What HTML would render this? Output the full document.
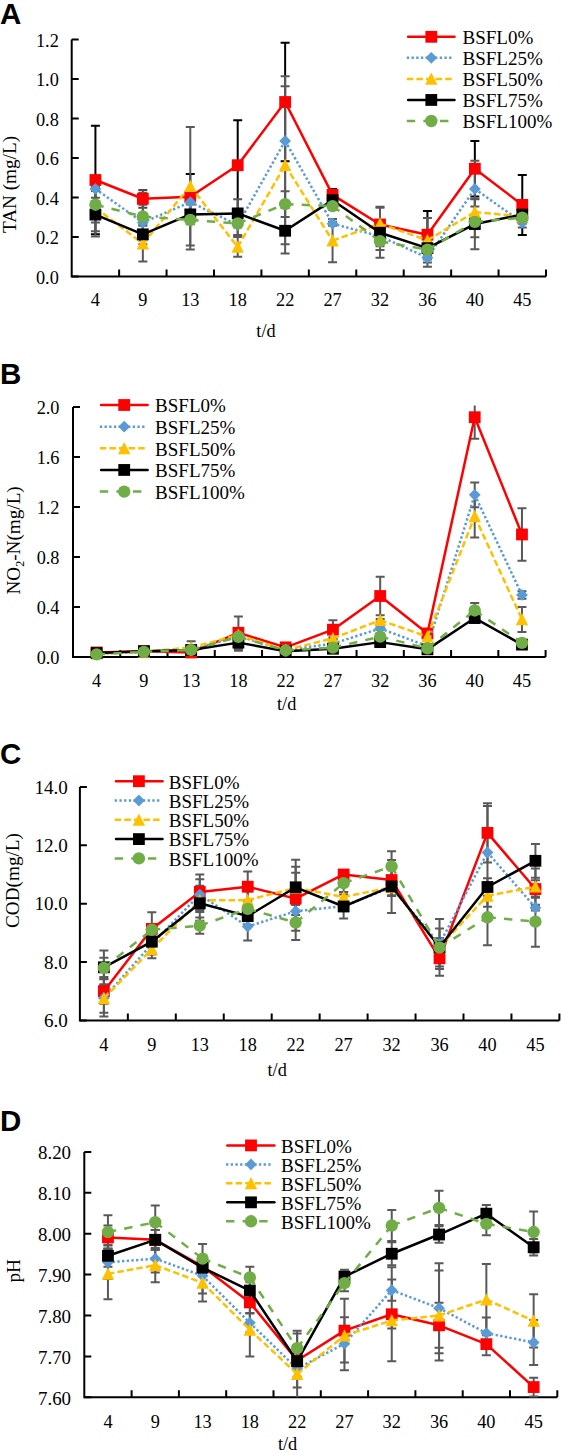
<!DOCTYPE html>
<html><head><meta charset="utf-8"><title>Chart</title>
<style>html,body{margin:0;padding:0;background:#fff;}svg{display:block;}</style></head>
<body><svg width="562" height="1453" viewBox="0 0 562 1453">
<rect width="562" height="1453" fill="#fff"/>
<text x="0" y="24" font-family="Liberation Sans, sans-serif" font-weight="bold" font-size="29.5">A</text>
<path d="M71.7 39.5V276.4H546" fill="none" stroke="#000" stroke-width="2"/>
<path d="M71.7 276.4h7M71.7 236.92h7M71.7 197.43h7M71.7 157.95h7M71.7 118.47h7M71.7 78.98h7M71.7 39.5h7M119.13 276.4v-7M166.56 276.4v-7M213.99 276.4v-7M261.42 276.4v-7M308.85 276.4v-7M356.28 276.4v-7M403.71 276.4v-7M451.14 276.4v-7M498.57 276.4v-7M546 276.4v-7" fill="none" stroke="#000" stroke-width="2"/>
<text transform="translate(58.8,283.6) scale(1.0,1)" font-family="Liberation Serif, serif" font-size="18.3" text-anchor="end">0.0</text>
<text transform="translate(58.8,244.12) scale(1.0,1)" font-family="Liberation Serif, serif" font-size="18.3" text-anchor="end">0.2</text>
<text transform="translate(58.8,204.63) scale(1.0,1)" font-family="Liberation Serif, serif" font-size="18.3" text-anchor="end">0.4</text>
<text transform="translate(58.8,165.15) scale(1.0,1)" font-family="Liberation Serif, serif" font-size="18.3" text-anchor="end">0.6</text>
<text transform="translate(58.8,125.67) scale(1.0,1)" font-family="Liberation Serif, serif" font-size="18.3" text-anchor="end">0.8</text>
<text transform="translate(58.8,86.18) scale(1.0,1)" font-family="Liberation Serif, serif" font-size="18.3" text-anchor="end">1.0</text>
<text transform="translate(58.8,46.7) scale(1.0,1)" font-family="Liberation Serif, serif" font-size="18.3" text-anchor="end">1.2</text>
<text x="95.42" y="305.8" font-family="Liberation Serif, serif" font-size="18.3" text-anchor="middle">4</text>
<text x="142.84" y="305.8" font-family="Liberation Serif, serif" font-size="18.3" text-anchor="middle">9</text>
<text x="190.28" y="305.8" font-family="Liberation Serif, serif" font-size="18.3" text-anchor="middle">13</text>
<text x="237.7" y="305.8" font-family="Liberation Serif, serif" font-size="18.3" text-anchor="middle">18</text>
<text x="285.13" y="305.8" font-family="Liberation Serif, serif" font-size="18.3" text-anchor="middle">22</text>
<text x="332.56" y="305.8" font-family="Liberation Serif, serif" font-size="18.3" text-anchor="middle">27</text>
<text x="380" y="305.8" font-family="Liberation Serif, serif" font-size="18.3" text-anchor="middle">32</text>
<text x="427.43" y="305.8" font-family="Liberation Serif, serif" font-size="18.3" text-anchor="middle">36</text>
<text x="474.85" y="305.8" font-family="Liberation Serif, serif" font-size="18.3" text-anchor="middle">40</text>
<text x="522.28" y="305.8" font-family="Liberation Serif, serif" font-size="18.3" text-anchor="middle">45</text>
<text x="266" y="336.6" font-family="Liberation Serif, serif" font-size="18.3" text-anchor="middle">t/d</text>
<text transform="translate(15.6,184.5) rotate(-90)" font-family="Liberation Serif, serif" font-size="19.2" text-anchor="middle">TAN (mg/L)</text>
<path d="M138.34 189.89h9M142.84 189.89V207.66M138.34 207.66h9" fill="none" stroke="#4a4a4a" stroke-width="2"/>
<path d="M90.92 125.7h9M95.42 125.7V234.33M90.92 234.33h9M185.78 174.09h9M190.28 174.09V219.51M185.78 219.51h9M233.2 120.37h9M237.7 120.37V210.03M233.2 210.03h9M280.63 42.75h9M285.13 42.75V161.25M280.63 161.25h9M328.06 188.9h9M332.56 188.9V200.75M328.06 200.75h9M375.5 220.5h9M380 220.5V228.4M375.5 228.4h9M422.93 211.02h9M427.43 211.02V258.42M422.93 258.42h9M470.35 140.91h9M474.85 140.91V196.6M470.35 196.6h9M517.78 174.88h9M522.28 174.88V234.92M517.78 234.92h9" fill="none" stroke="#000000" stroke-width="2"/>
<path d="M90.92 186.93h9M95.42 186.93V190.88M90.92 190.88h9M138.34 204.7h9M142.84 204.7V240.25M138.34 240.25h9M185.78 192.26h9M190.28 192.26V212.01M185.78 212.01h9M233.2 215.17h9M237.7 215.17V234.92M233.2 234.92h9M280.63 76.13h9M285.13 76.13V205.69M280.63 205.69h9M328.06 221.69h9M332.56 221.69V225.64M328.06 225.64h9M375.5 226.43h9M380 226.43V246.18M375.5 246.18h9M422.93 255.66h9M427.43 255.66V259.61M422.93 259.61h9M470.35 160.66h9M474.85 160.66V217.14M470.35 217.14h9M517.78 217.54h9M522.28 217.54V227.41M517.78 227.41h9" fill="none" stroke="#595959" stroke-width="2"/>
<path d="M90.92 178.83h9M95.42 178.83V236.5M90.92 236.5h9M138.34 225.83h9M142.84 225.83V261.38M138.34 261.38h9M185.78 126.89h9M190.28 126.89V245.38M185.78 245.38h9M233.2 237.09h9M237.7 237.09V256.84M233.2 256.84h9M280.63 86.2h9M285.13 86.2V244.2M280.63 244.2h9M328.06 218.92h9M332.56 218.92V262.37M328.06 262.37h9M375.5 206.87h9M380 206.87V240.45M375.5 240.45h9M422.93 217.93h9M427.43 217.93V262.57M422.93 262.57h9M470.35 199.17h9M474.85 199.17V224.85M470.35 224.85h9M517.78 210.62h9M522.28 210.62V222.48M517.78 222.48h9" fill="none" stroke="#595959" stroke-width="2"/>
<path d="M90.92 197.79h9M95.42 197.79V231.36M90.92 231.36h9M138.34 224.45h9M142.84 224.45V244.2M138.34 244.2h9M185.78 204.5h9M190.28 204.5V224.25M185.78 224.25h9M233.2 199.17h9M237.7 199.17V227.61M233.2 227.61h9M280.63 208.06h9M285.13 208.06V253.48M280.63 253.48h9M328.06 194.23h9M332.56 194.23V206.08M328.06 206.08h9M375.5 207.66h9M380 207.66V257.83M375.5 257.83h9M422.93 242.23h9M427.43 242.23V254.08M422.93 254.08h9M470.35 198.78h9M474.85 198.78V249.34M470.35 249.34h9M517.78 208.65h9M522.28 208.65V220.5M517.78 220.5h9" fill="none" stroke="#595959" stroke-width="2"/>
<path d="M90.92 186.93h9M95.42 186.93V222.48M90.92 222.48h9M138.34 192.85h9M142.84 192.85V240.25M138.34 240.25h9M185.78 190.28h9M190.28 190.28V249.53M185.78 249.53h9M233.2 210.82h9M237.7 210.82V236.1M233.2 236.1h9M280.63 191.27h9M285.13 191.27V216.95M280.63 216.95h9M328.06 202.13h9M332.56 202.13V210.03M328.06 210.03h9M375.5 232.55h9M380 232.55V249.93M375.5 249.93h9M422.93 232.75h9M427.43 232.75V266.72M422.93 266.72h9M470.35 206.48h9M474.85 206.48V237.29M470.35 237.29h9M517.78 211.81h9M522.28 211.81V223.66M517.78 223.66h9" fill="none" stroke="#595959" stroke-width="2"/>
<polyline points="95.42,180.01 142.84,198.78 190.28,196.8 237.7,165.2 285.13,102 332.56,194.83 380,224.45 427.43,234.72 474.85,168.75 522.28,204.9" fill="none" stroke="#FF0000" stroke-width="2.5" stroke-linecap="round" stroke-linejoin="round"/>
<rect x="89.52" y="174.11" width="11.8" height="11.8" fill="#FF0000"/>
<rect x="136.94" y="192.88" width="11.8" height="11.8" fill="#FF0000"/>
<rect x="184.38" y="190.9" width="11.8" height="11.8" fill="#FF0000"/>
<rect x="231.8" y="159.3" width="11.8" height="11.8" fill="#FF0000"/>
<rect x="279.24" y="96.1" width="11.8" height="11.8" fill="#FF0000"/>
<rect x="326.67" y="188.93" width="11.8" height="11.8" fill="#FF0000"/>
<rect x="374.1" y="218.55" width="11.8" height="11.8" fill="#FF0000"/>
<rect x="421.53" y="228.82" width="11.8" height="11.8" fill="#FF0000"/>
<rect x="468.95" y="162.85" width="11.8" height="11.8" fill="#FF0000"/>
<rect x="516.38" y="199" width="11.8" height="11.8" fill="#FF0000"/>
<path d="M95.42 188.9L142.84 222.48" fill="none" stroke="#5B9BD5" stroke-width="2.5" stroke-linecap="butt" stroke-dasharray="2.35 2.35"/>
<path d="M142.84 222.48L190.28 202.13" fill="none" stroke="#5B9BD5" stroke-width="2.5" stroke-linecap="butt" stroke-dasharray="2.35 2.35"/>
<path d="M190.28 202.13L237.7 225.04" fill="none" stroke="#5B9BD5" stroke-width="2.5" stroke-linecap="butt" stroke-dasharray="2.35 2.35"/>
<path d="M237.7 225.04L285.13 140.91" fill="none" stroke="#5B9BD5" stroke-width="2.5" stroke-linecap="butt" stroke-dasharray="2.35 2.35"/>
<path d="M285.13 140.91L332.56 223.66" fill="none" stroke="#5B9BD5" stroke-width="2.5" stroke-linecap="butt" stroke-dasharray="2.35 2.35"/>
<path d="M332.56 223.66L380 236.3" fill="none" stroke="#5B9BD5" stroke-width="2.5" stroke-linecap="butt" stroke-dasharray="2.35 2.35"/>
<path d="M380 236.3L427.43 257.63" fill="none" stroke="#5B9BD5" stroke-width="2.5" stroke-linecap="butt" stroke-dasharray="2.35 2.35"/>
<path d="M427.43 257.63L474.85 188.9" fill="none" stroke="#5B9BD5" stroke-width="2.5" stroke-linecap="butt" stroke-dasharray="2.35 2.35"/>
<path d="M474.85 188.9L522.28 222.48" fill="none" stroke="#5B9BD5" stroke-width="2.5" stroke-linecap="butt" stroke-dasharray="2.35 2.35"/>
<path d="M95.42 183L101.32 188.9L95.42 194.8L89.52 188.9Z" fill="#5B9BD5"/>
<path d="M142.84 216.58L148.75 222.48L142.84 228.38L136.94 222.48Z" fill="#5B9BD5"/>
<path d="M190.28 196.23L196.18 202.13L190.28 208.03L184.38 202.13Z" fill="#5B9BD5"/>
<path d="M237.7 219.14L243.6 225.04L237.7 230.94L231.8 225.04Z" fill="#5B9BD5"/>
<path d="M285.13 135.01L291.03 140.91L285.13 146.81L279.24 140.91Z" fill="#5B9BD5"/>
<path d="M332.56 217.76L338.46 223.66L332.56 229.56L326.67 223.66Z" fill="#5B9BD5"/>
<path d="M380 230.4L385.89 236.3L380 242.2L374.1 236.3Z" fill="#5B9BD5"/>
<path d="M427.43 251.73L433.32 257.63L427.43 263.53L421.53 257.63Z" fill="#5B9BD5"/>
<path d="M474.85 183L480.75 188.9L474.85 194.8L468.95 188.9Z" fill="#5B9BD5"/>
<path d="M522.28 216.58L528.18 222.48L522.28 228.38L516.38 222.48Z" fill="#5B9BD5"/>
<path d="M95.42 207.66L142.84 243.61" fill="none" stroke="#FFC000" stroke-width="2.5" stroke-linecap="butt" stroke-dasharray="6.5 3.1"/>
<path d="M142.84 243.61L190.28 186.13" fill="none" stroke="#FFC000" stroke-width="2.5" stroke-linecap="butt" stroke-dasharray="6.5 3.1"/>
<path d="M190.28 186.13L237.7 246.97" fill="none" stroke="#FFC000" stroke-width="2.5" stroke-linecap="butt" stroke-dasharray="6.5 3.1"/>
<path d="M237.7 246.97L285.13 165.2" fill="none" stroke="#FFC000" stroke-width="2.5" stroke-linecap="butt" stroke-dasharray="6.5 3.1"/>
<path d="M285.13 165.2L332.56 240.65" fill="none" stroke="#FFC000" stroke-width="2.5" stroke-linecap="butt" stroke-dasharray="6.5 3.1"/>
<path d="M332.56 240.65L380 223.66" fill="none" stroke="#FFC000" stroke-width="2.5" stroke-linecap="butt" stroke-dasharray="6.5 3.1"/>
<path d="M380 223.66L427.43 240.25" fill="none" stroke="#FFC000" stroke-width="2.5" stroke-linecap="butt" stroke-dasharray="6.5 3.1"/>
<path d="M427.43 240.25L474.85 212.01" fill="none" stroke="#FFC000" stroke-width="2.5" stroke-linecap="butt" stroke-dasharray="6.5 3.1"/>
<path d="M474.85 212.01L522.28 216.55" fill="none" stroke="#FFC000" stroke-width="2.5" stroke-linecap="butt" stroke-dasharray="6.5 3.1"/>
<path d="M95.42 201.26L101.62 213.56L89.22 213.56Z" fill="#FFC000"/>
<path d="M142.84 237.21L149.05 249.51L136.64 249.51Z" fill="#FFC000"/>
<path d="M190.28 179.73L196.48 192.03L184.07 192.03Z" fill="#FFC000"/>
<path d="M237.7 240.56L243.91 252.87L231.5 252.87Z" fill="#FFC000"/>
<path d="M285.13 158.8L291.33 171.1L278.94 171.1Z" fill="#FFC000"/>
<path d="M332.56 234.25L338.76 246.55L326.37 246.55Z" fill="#FFC000"/>
<path d="M380 217.26L386.19 229.56L373.8 229.56Z" fill="#FFC000"/>
<path d="M427.43 233.85L433.62 246.15L421.23 246.15Z" fill="#FFC000"/>
<path d="M474.85 205.61L481.05 217.91L468.65 217.91Z" fill="#FFC000"/>
<path d="M522.28 210.15L528.48 222.45L516.09 222.45Z" fill="#FFC000"/>
<polyline points="95.42,214.58 142.84,234.33 190.28,214.38 237.7,213.39 285.13,230.77 332.56,200.16 380,232.75 427.43,248.15 474.85,224.06 522.28,214.58" fill="none" stroke="#000000" stroke-width="2.5" stroke-linecap="round" stroke-linejoin="round"/>
<rect x="89.52" y="208.68" width="11.8" height="11.8" fill="#000000"/>
<rect x="136.94" y="228.43" width="11.8" height="11.8" fill="#000000"/>
<rect x="184.38" y="208.48" width="11.8" height="11.8" fill="#000000"/>
<rect x="231.8" y="207.49" width="11.8" height="11.8" fill="#000000"/>
<rect x="279.24" y="224.87" width="11.8" height="11.8" fill="#000000"/>
<rect x="326.67" y="194.26" width="11.8" height="11.8" fill="#000000"/>
<rect x="374.1" y="226.84" width="11.8" height="11.8" fill="#000000"/>
<rect x="421.53" y="242.25" width="11.8" height="11.8" fill="#000000"/>
<rect x="468.95" y="218.16" width="11.8" height="11.8" fill="#000000"/>
<rect x="516.38" y="208.68" width="11.8" height="11.8" fill="#000000"/>
<path d="M95.42 204.7L142.84 216.55" fill="none" stroke="#70AD47" stroke-width="2.5" stroke-linecap="butt" stroke-dasharray="8.4 8.2"/>
<path d="M142.84 216.55L190.28 219.91" fill="none" stroke="#70AD47" stroke-width="2.5" stroke-linecap="butt" stroke-dasharray="8.4 8.2"/>
<path d="M190.28 219.91L237.7 223.46" fill="none" stroke="#70AD47" stroke-width="2.5" stroke-linecap="butt" stroke-dasharray="8.4 8.2"/>
<path d="M237.7 223.46L285.13 204.11" fill="none" stroke="#70AD47" stroke-width="2.5" stroke-linecap="butt" stroke-dasharray="8.4 8.2"/>
<path d="M285.13 204.11L332.56 206.08" fill="none" stroke="#70AD47" stroke-width="2.5" stroke-linecap="butt" stroke-dasharray="8.4 8.2"/>
<path d="M332.56 206.08L380 241.24" fill="none" stroke="#70AD47" stroke-width="2.5" stroke-linecap="butt" stroke-dasharray="8.4 8.2"/>
<path d="M380 241.24L427.43 249.73" fill="none" stroke="#70AD47" stroke-width="2.5" stroke-linecap="butt" stroke-dasharray="8.4 8.2"/>
<path d="M427.43 249.73L474.85 221.88" fill="none" stroke="#70AD47" stroke-width="2.5" stroke-linecap="butt" stroke-dasharray="8.4 8.2"/>
<path d="M474.85 221.88L522.28 217.74" fill="none" stroke="#70AD47" stroke-width="2.5" stroke-linecap="butt" stroke-dasharray="8.4 8.2"/>
<circle cx="95.42" cy="204.7" r="6.2" fill="#70AD47"/>
<circle cx="142.84" cy="216.55" r="6.2" fill="#70AD47"/>
<circle cx="190.28" cy="219.91" r="6.2" fill="#70AD47"/>
<circle cx="237.7" cy="223.46" r="6.2" fill="#70AD47"/>
<circle cx="285.13" cy="204.11" r="6.2" fill="#70AD47"/>
<circle cx="332.56" cy="206.08" r="6.2" fill="#70AD47"/>
<circle cx="380" cy="241.24" r="6.2" fill="#70AD47"/>
<circle cx="427.43" cy="249.73" r="6.2" fill="#70AD47"/>
<circle cx="474.85" cy="221.88" r="6.2" fill="#70AD47"/>
<circle cx="522.28" cy="217.74" r="6.2" fill="#70AD47"/>
<path d="M408.1 36.8H454.5" stroke="#FF0000" stroke-width="2.5" stroke-linecap="round"/>
<rect x="425.4" y="30.9" width="11.8" height="11.8" fill="#FF0000"/>
<text x="462.5" y="44.1" font-family="Liberation Serif, serif" font-size="19">BSFL0%</text>
<path d="M406.8 57.85H452.3" stroke="#5B9BD5" stroke-width="2.5" stroke-linecap="butt" stroke-dasharray="2.35 2.35"/>
<path d="M431.3 51.95L437.2 57.85L431.3 63.75L425.4 57.85Z" fill="#5B9BD5"/>
<text x="462.5" y="65.15" font-family="Liberation Serif, serif" font-size="19">BSFL25%</text>
<path d="M406.8 78.9H452.3" stroke="#FFC000" stroke-width="2.5" stroke-linecap="butt" stroke-dasharray="6.5 3.1"/>
<path d="M431.3 72.5L437.5 84.8L425.1 84.8Z" fill="#FFC000"/>
<text x="462.5" y="86.2" font-family="Liberation Serif, serif" font-size="19">BSFL50%</text>
<path d="M408.1 99.95H454.5" stroke="#000000" stroke-width="2.5" stroke-linecap="round"/>
<rect x="425.4" y="94.05" width="11.8" height="11.8" fill="#000000"/>
<text x="462.5" y="107.25" font-family="Liberation Serif, serif" font-size="19">BSFL75%</text>
<path d="M406.8 121H452.3" stroke="#70AD47" stroke-width="2.5" stroke-linecap="butt" stroke-dasharray="8.4 8.2"/>
<circle cx="431.3" cy="121" r="6.2" fill="#70AD47"/>
<text x="462.5" y="128.3" font-family="Liberation Serif, serif" font-size="19">BSFL100%</text>
<text x="0" y="383.9" font-family="Liberation Sans, sans-serif" font-weight="bold" font-size="29.5">B</text>
<path d="M73 407.1V657H545.6" fill="none" stroke="#000" stroke-width="2"/>
<path d="M73 657h7M73 607.02h7M73 557.04h7M73 507.06h7M73 457.08h7M73 407.1h7M120.26 657v-7M167.52 657v-7M214.78 657v-7M262.04 657v-7M309.3 657v-7M356.56 657v-7M403.82 657v-7M451.08 657v-7M498.34 657v-7M545.6 657v-7" fill="none" stroke="#000" stroke-width="2"/>
<text transform="translate(59.5,664.2) scale(1.0,1)" font-family="Liberation Serif, serif" font-size="18.3" text-anchor="end">0.0</text>
<text transform="translate(59.5,614.22) scale(1.0,1)" font-family="Liberation Serif, serif" font-size="18.3" text-anchor="end">0.4</text>
<text transform="translate(59.5,564.24) scale(1.0,1)" font-family="Liberation Serif, serif" font-size="18.3" text-anchor="end">0.8</text>
<text transform="translate(59.5,514.26) scale(1.0,1)" font-family="Liberation Serif, serif" font-size="18.3" text-anchor="end">1.2</text>
<text transform="translate(59.5,464.28) scale(1.0,1)" font-family="Liberation Serif, serif" font-size="18.3" text-anchor="end">1.6</text>
<text transform="translate(59.5,414.3) scale(1.0,1)" font-family="Liberation Serif, serif" font-size="18.3" text-anchor="end">2.0</text>
<text x="96.63" y="686.9" font-family="Liberation Serif, serif" font-size="18.3" text-anchor="middle">4</text>
<text x="143.89" y="686.9" font-family="Liberation Serif, serif" font-size="18.3" text-anchor="middle">9</text>
<text x="191.15" y="686.9" font-family="Liberation Serif, serif" font-size="18.3" text-anchor="middle">13</text>
<text x="238.41" y="686.9" font-family="Liberation Serif, serif" font-size="18.3" text-anchor="middle">18</text>
<text x="285.67" y="686.9" font-family="Liberation Serif, serif" font-size="18.3" text-anchor="middle">22</text>
<text x="332.93" y="686.9" font-family="Liberation Serif, serif" font-size="18.3" text-anchor="middle">27</text>
<text x="380.19" y="686.9" font-family="Liberation Serif, serif" font-size="18.3" text-anchor="middle">32</text>
<text x="427.45" y="686.9" font-family="Liberation Serif, serif" font-size="18.3" text-anchor="middle">36</text>
<text x="474.71" y="686.9" font-family="Liberation Serif, serif" font-size="18.3" text-anchor="middle">40</text>
<text x="521.97" y="686.9" font-family="Liberation Serif, serif" font-size="18.3" text-anchor="middle">45</text>
<text x="286.7" y="710" font-family="Liberation Serif, serif" font-size="18.3" text-anchor="middle">t/d</text>
<text transform="translate(20,540.4) rotate(-90)" font-family="Liberation Serif, serif" font-size="19.2" text-anchor="middle">NO<tspan font-size="12" dy="4">2</tspan><tspan dy="-4">-N(mg/L)</tspan></text>
<path d="M92.13 651.22h9M96.63 651.22V653.71M92.13 653.71h9M139.39 649.97h9M143.89 649.97V652.46M139.39 652.46h9M186.65 651.22h9M191.15 651.22V653.71M186.65 653.71h9M233.91 616.58h9M238.41 616.58V648.97M233.91 648.97h9M281.17 646.11h9M285.67 646.11V648.6M281.17 648.6h9M328.43 620.32h9M332.93 620.32V639.01M328.43 639.01h9M375.69 576.71h9M380.19 576.71V615.33M375.69 615.33h9M422.95 630.91h9M427.45 630.91V635.89M422.95 635.89h9M474.71 405.6V438.77M470.21 438.77h9M517.47 508.3h9M521.97 508.3V560.63M517.47 560.63h9" fill="none" stroke="#595959" stroke-width="2"/>
<path d="M92.13 652.46h9M96.63 652.46V654.95M92.13 654.95h9M139.39 650.59h9M143.89 650.59V653.09M139.39 653.09h9M186.65 648.72h9M191.15 648.72V651.22M186.65 651.22h9M233.91 635.02h9M238.41 635.02V637.51M233.91 637.51h9M281.17 648.72h9M285.67 648.72V651.22M281.17 651.22h9M328.43 642.49h9M332.93 642.49V644.99M328.43 644.99h9M375.69 627.17h9M380.19 627.17V629.66M375.69 629.66h9M422.95 644.99h9M427.45 644.99V647.48M422.95 647.48h9M470.21 482.38h9M474.71 482.38V507.3M470.21 507.3h9M517.47 591.16h9M521.97 591.16V598.63M517.47 598.63h9" fill="none" stroke="#595959" stroke-width="2"/>
<path d="M92.13 652.46h9M96.63 652.46V654.95M92.13 654.95h9M139.39 650.59h9M143.89 650.59V653.09M139.39 653.09h9M186.65 641.25h9M191.15 641.25V653.71M186.65 653.71h9M233.91 633.77h9M238.41 633.77V636.26M233.91 636.26h9M281.17 648.72h9M285.67 648.72V651.22M281.17 651.22h9M328.43 637.14h9M332.93 637.14V639.63M328.43 639.63h9M375.69 618.94h9M380.19 618.94V621.44M375.69 621.44h9M422.95 635.39h9M427.45 635.39V637.88M422.95 637.88h9M470.21 495.09h9M474.71 495.09V537.46M470.21 537.46h9M517.47 606.98h9M521.97 606.98V631.9M517.47 631.9h9" fill="none" stroke="#595959" stroke-width="2"/>
<path d="M92.13 651.84h9M96.63 651.84V654.33M92.13 654.33h9M139.39 649.97h9M143.89 649.97V652.46M139.39 652.46h9M186.65 648.72h9M191.15 648.72V651.22M186.65 651.22h9M233.91 634.52h9M238.41 634.52V650.72M233.91 650.72h9M281.17 649.97h9M285.67 649.97V652.46M281.17 652.46h9M328.43 647.48h9M332.93 647.48V649.97M328.43 649.97h9M375.69 640.87h9M380.19 640.87V643.37M375.69 643.37h9M422.95 648.1h9M427.45 648.1V650.59M422.95 650.59h9M470.21 615.58h9M474.71 615.58V620.56M470.21 620.56h9M517.47 642.12h9M521.97 642.12V647.1M517.47 647.1h9" fill="none" stroke="#595959" stroke-width="2"/>
<path d="M92.13 653.09h9M96.63 653.09V655.58M92.13 655.58h9M139.39 650.59h9M143.89 650.59V653.09M139.39 653.09h9M186.65 648.72h9M191.15 648.72V651.22M186.65 651.22h9M233.91 635.52h9M238.41 635.52V638.01M233.91 638.01h9M281.17 649.22h9M285.67 649.22V651.71M281.17 651.71h9M328.43 646.36h9M332.93 646.36V648.85M328.43 648.85h9M375.69 635.39h9M380.19 635.39V637.88M375.69 637.88h9M422.95 647.1h9M427.45 647.1V649.6M422.95 649.6h9M470.21 603h9M474.71 603V617.95M470.21 617.95h9M517.47 641.62h9M521.97 641.62V644.11M517.47 644.11h9" fill="none" stroke="#595959" stroke-width="2"/>
<polyline points="96.63,652.46 143.89,651.22 191.15,652.46 238.41,632.78 285.67,647.35 332.93,629.66 380.19,596.02 427.45,633.4 474.71,417.22 521.97,534.47" fill="none" stroke="#FF0000" stroke-width="2.5" stroke-linecap="round" stroke-linejoin="round"/>
<rect x="90.73" y="646.56" width="11.8" height="11.8" fill="#FF0000"/>
<rect x="137.99" y="645.32" width="11.8" height="11.8" fill="#FF0000"/>
<rect x="185.25" y="646.56" width="11.8" height="11.8" fill="#FF0000"/>
<rect x="232.51" y="626.88" width="11.8" height="11.8" fill="#FF0000"/>
<rect x="279.77" y="641.45" width="11.8" height="11.8" fill="#FF0000"/>
<rect x="327.03" y="623.76" width="11.8" height="11.8" fill="#FF0000"/>
<rect x="374.29" y="590.12" width="11.8" height="11.8" fill="#FF0000"/>
<rect x="421.55" y="627.5" width="11.8" height="11.8" fill="#FF0000"/>
<rect x="468.81" y="411.32" width="11.8" height="11.8" fill="#FF0000"/>
<rect x="516.07" y="528.57" width="11.8" height="11.8" fill="#FF0000"/>
<path d="M96.63 653.71L143.89 651.84" fill="none" stroke="#5B9BD5" stroke-width="2.5" stroke-linecap="butt" stroke-dasharray="2.35 2.35"/>
<path d="M143.89 651.84L191.15 649.97" fill="none" stroke="#5B9BD5" stroke-width="2.5" stroke-linecap="butt" stroke-dasharray="2.35 2.35"/>
<path d="M191.15 649.97L238.41 636.26" fill="none" stroke="#5B9BD5" stroke-width="2.5" stroke-linecap="butt" stroke-dasharray="2.35 2.35"/>
<path d="M238.41 636.26L285.67 649.97" fill="none" stroke="#5B9BD5" stroke-width="2.5" stroke-linecap="butt" stroke-dasharray="2.35 2.35"/>
<path d="M285.67 649.97L332.93 643.74" fill="none" stroke="#5B9BD5" stroke-width="2.5" stroke-linecap="butt" stroke-dasharray="2.35 2.35"/>
<path d="M332.93 643.74L380.19 628.41" fill="none" stroke="#5B9BD5" stroke-width="2.5" stroke-linecap="butt" stroke-dasharray="2.35 2.35"/>
<path d="M380.19 628.41L427.45 646.23" fill="none" stroke="#5B9BD5" stroke-width="2.5" stroke-linecap="butt" stroke-dasharray="2.35 2.35"/>
<path d="M427.45 646.23L474.71 494.84" fill="none" stroke="#5B9BD5" stroke-width="2.5" stroke-linecap="butt" stroke-dasharray="2.35 2.35"/>
<path d="M474.71 494.84L521.97 594.9" fill="none" stroke="#5B9BD5" stroke-width="2.5" stroke-linecap="butt" stroke-dasharray="2.35 2.35"/>
<path d="M96.63 647.81L102.53 653.71L96.63 659.61L90.73 653.71Z" fill="#5B9BD5"/>
<path d="M143.89 645.94L149.79 651.84L143.89 657.74L137.99 651.84Z" fill="#5B9BD5"/>
<path d="M191.15 644.07L197.05 649.97L191.15 655.87L185.25 649.97Z" fill="#5B9BD5"/>
<path d="M238.41 630.36L244.31 636.26L238.41 642.16L232.51 636.26Z" fill="#5B9BD5"/>
<path d="M285.67 644.07L291.57 649.97L285.67 655.87L279.77 649.97Z" fill="#5B9BD5"/>
<path d="M332.93 637.84L338.83 643.74L332.93 649.64L327.03 643.74Z" fill="#5B9BD5"/>
<path d="M380.19 622.51L386.09 628.41L380.19 634.31L374.29 628.41Z" fill="#5B9BD5"/>
<path d="M427.45 640.33L433.35 646.23L427.45 652.13L421.55 646.23Z" fill="#5B9BD5"/>
<path d="M474.71 488.94L480.61 494.84L474.71 500.74L468.81 494.84Z" fill="#5B9BD5"/>
<path d="M521.97 589L527.87 594.9L521.97 600.8L516.07 594.9Z" fill="#5B9BD5"/>
<path d="M96.63 653.71L143.89 651.84" fill="none" stroke="#FFC000" stroke-width="2.5" stroke-linecap="butt" stroke-dasharray="6.5 3.1"/>
<path d="M143.89 651.84L191.15 647.48" fill="none" stroke="#FFC000" stroke-width="2.5" stroke-linecap="butt" stroke-dasharray="6.5 3.1"/>
<path d="M191.15 647.48L238.41 635.02" fill="none" stroke="#FFC000" stroke-width="2.5" stroke-linecap="butt" stroke-dasharray="6.5 3.1"/>
<path d="M238.41 635.02L285.67 649.97" fill="none" stroke="#FFC000" stroke-width="2.5" stroke-linecap="butt" stroke-dasharray="6.5 3.1"/>
<path d="M285.67 649.97L332.93 638.38" fill="none" stroke="#FFC000" stroke-width="2.5" stroke-linecap="butt" stroke-dasharray="6.5 3.1"/>
<path d="M332.93 638.38L380.19 620.19" fill="none" stroke="#FFC000" stroke-width="2.5" stroke-linecap="butt" stroke-dasharray="6.5 3.1"/>
<path d="M380.19 620.19L427.45 636.64" fill="none" stroke="#FFC000" stroke-width="2.5" stroke-linecap="butt" stroke-dasharray="6.5 3.1"/>
<path d="M427.45 636.64L474.71 516.27" fill="none" stroke="#FFC000" stroke-width="2.5" stroke-linecap="butt" stroke-dasharray="6.5 3.1"/>
<path d="M474.71 516.27L521.97 619.44" fill="none" stroke="#FFC000" stroke-width="2.5" stroke-linecap="butt" stroke-dasharray="6.5 3.1"/>
<path d="M96.63 647.31L102.83 659.61L90.43 659.61Z" fill="#FFC000"/>
<path d="M143.89 645.44L150.09 657.74L137.69 657.74Z" fill="#FFC000"/>
<path d="M191.15 641.08L197.35 653.38L184.95 653.38Z" fill="#FFC000"/>
<path d="M238.41 628.62L244.61 640.92L232.21 640.92Z" fill="#FFC000"/>
<path d="M285.67 643.57L291.87 655.87L279.47 655.87Z" fill="#FFC000"/>
<path d="M332.93 631.98L339.13 644.28L326.73 644.28Z" fill="#FFC000"/>
<path d="M380.19 613.79L386.39 626.09L373.99 626.09Z" fill="#FFC000"/>
<path d="M427.45 630.24L433.65 642.54L421.25 642.54Z" fill="#FFC000"/>
<path d="M474.71 509.87L480.91 522.17L468.51 522.17Z" fill="#FFC000"/>
<path d="M521.97 613.04L528.17 625.34L515.77 625.34Z" fill="#FFC000"/>
<polyline points="96.63,653.09 143.89,651.22 191.15,649.97 238.41,642.62 285.67,651.22 332.93,648.72 380.19,642.12 427.45,649.35 474.71,618.07 521.97,644.61" fill="none" stroke="#000000" stroke-width="2.5" stroke-linecap="round" stroke-linejoin="round"/>
<rect x="90.73" y="647.19" width="11.8" height="11.8" fill="#000000"/>
<rect x="137.99" y="645.32" width="11.8" height="11.8" fill="#000000"/>
<rect x="185.25" y="644.07" width="11.8" height="11.8" fill="#000000"/>
<rect x="232.51" y="636.72" width="11.8" height="11.8" fill="#000000"/>
<rect x="279.77" y="645.32" width="11.8" height="11.8" fill="#000000"/>
<rect x="327.03" y="642.82" width="11.8" height="11.8" fill="#000000"/>
<rect x="374.29" y="636.22" width="11.8" height="11.8" fill="#000000"/>
<rect x="421.55" y="643.45" width="11.8" height="11.8" fill="#000000"/>
<rect x="468.81" y="612.17" width="11.8" height="11.8" fill="#000000"/>
<rect x="516.07" y="638.71" width="11.8" height="11.8" fill="#000000"/>
<path d="M96.63 654.33L143.89 651.84" fill="none" stroke="#70AD47" stroke-width="2.5" stroke-linecap="butt" stroke-dasharray="8.4 8.2"/>
<path d="M143.89 651.84L191.15 649.97" fill="none" stroke="#70AD47" stroke-width="2.5" stroke-linecap="butt" stroke-dasharray="8.4 8.2"/>
<path d="M191.15 649.97L238.41 636.76" fill="none" stroke="#70AD47" stroke-width="2.5" stroke-linecap="butt" stroke-dasharray="8.4 8.2"/>
<path d="M238.41 636.76L285.67 650.47" fill="none" stroke="#70AD47" stroke-width="2.5" stroke-linecap="butt" stroke-dasharray="8.4 8.2"/>
<path d="M285.67 650.47L332.93 647.6" fill="none" stroke="#70AD47" stroke-width="2.5" stroke-linecap="butt" stroke-dasharray="8.4 8.2"/>
<path d="M332.93 647.6L380.19 636.64" fill="none" stroke="#70AD47" stroke-width="2.5" stroke-linecap="butt" stroke-dasharray="8.4 8.2"/>
<path d="M380.19 636.64L427.45 648.35" fill="none" stroke="#70AD47" stroke-width="2.5" stroke-linecap="butt" stroke-dasharray="8.4 8.2"/>
<path d="M427.45 648.35L474.71 610.47" fill="none" stroke="#70AD47" stroke-width="2.5" stroke-linecap="butt" stroke-dasharray="8.4 8.2"/>
<path d="M474.71 610.47L521.97 642.87" fill="none" stroke="#70AD47" stroke-width="2.5" stroke-linecap="butt" stroke-dasharray="8.4 8.2"/>
<circle cx="96.63" cy="654.33" r="6.2" fill="#70AD47"/>
<circle cx="143.89" cy="651.84" r="6.2" fill="#70AD47"/>
<circle cx="191.15" cy="649.97" r="6.2" fill="#70AD47"/>
<circle cx="238.41" cy="636.76" r="6.2" fill="#70AD47"/>
<circle cx="285.67" cy="650.47" r="6.2" fill="#70AD47"/>
<circle cx="332.93" cy="647.6" r="6.2" fill="#70AD47"/>
<circle cx="380.19" cy="636.64" r="6.2" fill="#70AD47"/>
<circle cx="427.45" cy="648.35" r="6.2" fill="#70AD47"/>
<circle cx="474.71" cy="610.47" r="6.2" fill="#70AD47"/>
<circle cx="521.97" cy="642.87" r="6.2" fill="#70AD47"/>
<path d="M101.1 405H147.6" stroke="#FF0000" stroke-width="2.5" stroke-linecap="round"/>
<rect x="118.3" y="399.1" width="11.8" height="11.8" fill="#FF0000"/>
<text x="155.1" y="412.3" font-family="Liberation Serif, serif" font-size="19">BSFL0%</text>
<path d="M99.8 426.65H145.4" stroke="#5B9BD5" stroke-width="2.5" stroke-linecap="butt" stroke-dasharray="2.35 2.35"/>
<path d="M124.2 420.75L130.1 426.65L124.2 432.55L118.3 426.65Z" fill="#5B9BD5"/>
<text x="155.1" y="433.95" font-family="Liberation Serif, serif" font-size="19">BSFL25%</text>
<path d="M99.8 448.3H145.4" stroke="#FFC000" stroke-width="2.5" stroke-linecap="butt" stroke-dasharray="6.5 3.1"/>
<path d="M124.2 441.9L130.4 454.2L118 454.2Z" fill="#FFC000"/>
<text x="155.1" y="455.6" font-family="Liberation Serif, serif" font-size="19">BSFL50%</text>
<path d="M101.1 469.95H147.6" stroke="#000000" stroke-width="2.5" stroke-linecap="round"/>
<rect x="118.3" y="464.05" width="11.8" height="11.8" fill="#000000"/>
<text x="155.1" y="477.25" font-family="Liberation Serif, serif" font-size="19">BSFL75%</text>
<path d="M99.8 491.6H145.4" stroke="#70AD47" stroke-width="2.5" stroke-linecap="butt" stroke-dasharray="8.4 8.2"/>
<circle cx="124.2" cy="491.6" r="6.2" fill="#70AD47"/>
<text x="155.1" y="498.9" font-family="Liberation Serif, serif" font-size="19">BSFL100%</text>
<text x="0" y="764.4" font-family="Liberation Sans, sans-serif" font-weight="bold" font-size="29.5">C</text>
<path d="M79.9 786.9V1020.5H559.4" fill="none" stroke="#000" stroke-width="2"/>
<path d="M79.9 1020.5h7M79.9 962.1h7M79.9 903.7h7M79.9 845.3h7M79.9 786.9h7M127.85 1020.5v-7M175.8 1020.5v-7M223.75 1020.5v-7M271.7 1020.5v-7M319.65 1020.5v-7M367.6 1020.5v-7M415.55 1020.5v-7M463.5 1020.5v-7M511.45 1020.5v-7M559.4 1020.5v-7" fill="none" stroke="#000" stroke-width="2"/>
<text transform="translate(67.9,1027.2) scale(1.045,1)" font-family="Liberation Serif, serif" font-size="18.3" text-anchor="end">6.0</text>
<text transform="translate(67.9,968.8) scale(1.045,1)" font-family="Liberation Serif, serif" font-size="18.3" text-anchor="end">8.0</text>
<text transform="translate(67.9,910.4) scale(1.045,1)" font-family="Liberation Serif, serif" font-size="18.3" text-anchor="end">10.0</text>
<text transform="translate(67.9,852) scale(1.045,1)" font-family="Liberation Serif, serif" font-size="18.3" text-anchor="end">12.0</text>
<text transform="translate(67.9,793.6) scale(1.045,1)" font-family="Liberation Serif, serif" font-size="18.3" text-anchor="end">14.0</text>
<text x="103.88" y="1051" font-family="Liberation Serif, serif" font-size="18.3" text-anchor="middle">4</text>
<text x="151.83" y="1051" font-family="Liberation Serif, serif" font-size="18.3" text-anchor="middle">9</text>
<text x="199.78" y="1051" font-family="Liberation Serif, serif" font-size="18.3" text-anchor="middle">13</text>
<text x="247.73" y="1051" font-family="Liberation Serif, serif" font-size="18.3" text-anchor="middle">18</text>
<text x="295.68" y="1051" font-family="Liberation Serif, serif" font-size="18.3" text-anchor="middle">22</text>
<text x="343.62" y="1051" font-family="Liberation Serif, serif" font-size="18.3" text-anchor="middle">27</text>
<text x="391.58" y="1051" font-family="Liberation Serif, serif" font-size="18.3" text-anchor="middle">32</text>
<text x="439.52" y="1051" font-family="Liberation Serif, serif" font-size="18.3" text-anchor="middle">36</text>
<text x="487.48" y="1051" font-family="Liberation Serif, serif" font-size="18.3" text-anchor="middle">40</text>
<text x="535.43" y="1051" font-family="Liberation Serif, serif" font-size="18.3" text-anchor="middle">45</text>
<text x="277.2" y="1075.9" font-family="Liberation Serif, serif" font-size="18.3" text-anchor="middle">t/d</text>
<text transform="translate(19.2,880.5) rotate(-90)" font-family="Liberation Serif, serif" font-size="19.2" text-anchor="middle">COD(mg/L)</text>
<path d="M99.38 978.67h9M103.88 978.67V1003.7M99.38 1003.7h9M147.33 912.32h9M151.83 912.32V945.5M147.33 945.5h9M195.28 874.49h9M199.78 874.49V909.41M195.28 909.41h9M243.23 871.58h9M247.73 871.58V901.85M243.23 901.85h9M291.18 866.63h9M295.68 866.63V930.65M291.18 930.65h9M339.12 871.58h9M343.62 871.58V877.4M339.12 877.4h9M387.08 864.89h9M391.58 864.89V895.15M387.08 895.15h9M435.02 940.84h9M439.52 940.84V975.76M435.02 975.76h9M482.98 803.2h9M487.48 803.2V862.56M482.98 862.56h9M530.93 880.31h9M535.43 880.31V897.77M530.93 897.77h9" fill="none" stroke="#595959" stroke-width="2"/>
<path d="M99.38 979.25h9M103.88 979.25V1016.5M99.38 1016.5h9M147.33 935.31h9M151.83 935.31V952.77M147.33 952.77h9M195.28 879.15h9M199.78 879.15V909.99M195.28 909.99h9M243.23 912.61h9M247.73 912.61V940.55M243.23 940.55h9M291.18 902.43h9M295.68 902.43V919.89M291.18 919.89h9M339.12 903.3h9M343.62 903.3V909.12M339.12 909.12h9M387.08 878.57h9M391.58 878.57V896.03M387.08 896.03h9M435.02 919.01h9M439.52 919.01V969.07M435.02 969.07h9M482.98 806.11h9M487.48 806.11V898.64M482.98 898.64h9M530.93 904.76h9M535.43 904.76V910.58M530.93 910.58h9" fill="none" stroke="#595959" stroke-width="2"/>
<path d="M99.38 984.2h9M103.88 984.2V1012.72M99.38 1012.72h9M147.33 939.68h9M151.83 939.68V958.3M147.33 958.3h9M195.28 888.75h9M199.78 888.75V912.03M195.28 912.03h9M243.23 891.37h9M247.73 891.37V908.83M243.23 908.83h9M291.18 872.75h9M295.68 872.75V903.01M291.18 903.01h9M339.12 892.24h9M343.62 892.24V901.55M339.12 901.55h9M387.08 878.57h9M391.58 878.57V896.03M387.08 896.03h9M435.02 938.22h9M439.52 938.22V955.68M435.02 955.68h9M482.98 884.68h9M487.48 884.68V906.79M482.98 906.79h9M530.93 868.38h9M535.43 868.38V905.05M530.93 905.05h9" fill="none" stroke="#595959" stroke-width="2"/>
<path d="M99.38 957.72h9M103.88 957.72V976.92M99.38 976.92h9M147.33 928.91h9M151.83 928.91V954.52M147.33 954.52h9M195.28 885.84h9M199.78 885.84V920.76M195.28 920.76h9M243.23 907.37h9M247.73 907.37V924.83M243.23 924.83h9M291.18 859.65h9M295.68 859.65V914.94M291.18 914.94h9M339.12 894.57h9M343.62 894.57V918.43M339.12 918.43h9M387.08 859.94h9M391.58 859.94V912.9M387.08 912.9h9M435.02 938.22h9M439.52 938.22V955.68M435.02 955.68h9M482.98 878.27h9M487.48 878.27V895.73M482.98 895.73h9M530.93 843.94h9M535.43 843.94V877.69M530.93 877.69h9" fill="none" stroke="#595959" stroke-width="2"/>
<path d="M99.38 950.44h9M103.88 950.44V985.36M99.38 985.36h9M147.33 926.87h9M151.83 926.87V932.69M147.33 932.69h9M195.28 917.56h9M199.78 917.56V933.86M195.28 933.86h9M243.23 900.1h9M247.73 900.1V917.56M243.23 917.56h9M291.18 905.05h9M295.68 905.05V939.97M291.18 939.97h9M339.12 874.49h9M343.62 874.49V891.95M339.12 891.95h9M387.08 851.21h9M391.58 851.21V881.48M387.08 881.48h9M435.02 928.62h9M439.52 928.62V966.45M435.02 966.45h9M482.98 889.33h9M487.48 889.33V945.2M482.98 945.2h9M530.93 896.61h9M535.43 896.61V946.66M530.93 946.66h9" fill="none" stroke="#595959" stroke-width="2"/>
<polyline points="103.88,991.18 151.83,928.91 199.78,891.95 247.73,886.71 295.68,898.64 343.62,874.49 391.58,880.02 439.52,958.3 487.48,832.88 535.43,889.04" fill="none" stroke="#FF0000" stroke-width="2.5" stroke-linecap="round" stroke-linejoin="round"/>
<rect x="97.97" y="985.28" width="11.8" height="11.8" fill="#FF0000"/>
<rect x="145.93" y="923.01" width="11.8" height="11.8" fill="#FF0000"/>
<rect x="193.88" y="886.05" width="11.8" height="11.8" fill="#FF0000"/>
<rect x="241.83" y="880.81" width="11.8" height="11.8" fill="#FF0000"/>
<rect x="289.78" y="892.74" width="11.8" height="11.8" fill="#FF0000"/>
<rect x="337.73" y="868.59" width="11.8" height="11.8" fill="#FF0000"/>
<rect x="385.68" y="874.12" width="11.8" height="11.8" fill="#FF0000"/>
<rect x="433.62" y="952.4" width="11.8" height="11.8" fill="#FF0000"/>
<rect x="481.58" y="826.98" width="11.8" height="11.8" fill="#FF0000"/>
<rect x="529.53" y="883.14" width="11.8" height="11.8" fill="#FF0000"/>
<path d="M103.88 997.88L151.83 944.04" fill="none" stroke="#5B9BD5" stroke-width="2.5" stroke-linecap="butt" stroke-dasharray="2.35 2.35"/>
<path d="M151.83 944.04L199.78 894.57" fill="none" stroke="#5B9BD5" stroke-width="2.5" stroke-linecap="butt" stroke-dasharray="2.35 2.35"/>
<path d="M199.78 894.57L247.73 926.58" fill="none" stroke="#5B9BD5" stroke-width="2.5" stroke-linecap="butt" stroke-dasharray="2.35 2.35"/>
<path d="M247.73 926.58L295.68 911.16" fill="none" stroke="#5B9BD5" stroke-width="2.5" stroke-linecap="butt" stroke-dasharray="2.35 2.35"/>
<path d="M295.68 911.16L343.62 906.21" fill="none" stroke="#5B9BD5" stroke-width="2.5" stroke-linecap="butt" stroke-dasharray="2.35 2.35"/>
<path d="M343.62 906.21L391.58 887.3" fill="none" stroke="#5B9BD5" stroke-width="2.5" stroke-linecap="butt" stroke-dasharray="2.35 2.35"/>
<path d="M391.58 887.3L439.52 944.04" fill="none" stroke="#5B9BD5" stroke-width="2.5" stroke-linecap="butt" stroke-dasharray="2.35 2.35"/>
<path d="M439.52 944.04L487.48 852.38" fill="none" stroke="#5B9BD5" stroke-width="2.5" stroke-linecap="butt" stroke-dasharray="2.35 2.35"/>
<path d="M487.48 852.38L535.43 907.67" fill="none" stroke="#5B9BD5" stroke-width="2.5" stroke-linecap="butt" stroke-dasharray="2.35 2.35"/>
<path d="M103.88 991.98L109.78 997.88L103.88 1003.77L97.97 997.88Z" fill="#5B9BD5"/>
<path d="M151.83 938.14L157.73 944.04L151.83 949.94L145.93 944.04Z" fill="#5B9BD5"/>
<path d="M199.78 888.67L205.68 894.57L199.78 900.47L193.88 894.57Z" fill="#5B9BD5"/>
<path d="M247.73 920.68L253.63 926.58L247.73 932.48L241.83 926.58Z" fill="#5B9BD5"/>
<path d="M295.68 905.26L301.57 911.16L295.68 917.06L289.78 911.16Z" fill="#5B9BD5"/>
<path d="M343.62 900.31L349.52 906.21L343.62 912.11L337.73 906.21Z" fill="#5B9BD5"/>
<path d="M391.58 881.4L397.48 887.3L391.58 893.2L385.68 887.3Z" fill="#5B9BD5"/>
<path d="M439.52 938.14L445.42 944.04L439.52 949.94L433.62 944.04Z" fill="#5B9BD5"/>
<path d="M487.48 846.48L493.38 852.38L487.48 858.27L481.58 852.38Z" fill="#5B9BD5"/>
<path d="M535.43 901.77L541.33 907.67L535.43 913.57L529.53 907.67Z" fill="#5B9BD5"/>
<path d="M103.88 998.46L151.83 948.99" fill="none" stroke="#FFC000" stroke-width="2.5" stroke-linecap="butt" stroke-dasharray="6.5 3.1"/>
<path d="M151.83 948.99L199.78 900.39" fill="none" stroke="#FFC000" stroke-width="2.5" stroke-linecap="butt" stroke-dasharray="6.5 3.1"/>
<path d="M199.78 900.39L247.73 900.1" fill="none" stroke="#FFC000" stroke-width="2.5" stroke-linecap="butt" stroke-dasharray="6.5 3.1"/>
<path d="M247.73 900.1L295.68 887.88" fill="none" stroke="#FFC000" stroke-width="2.5" stroke-linecap="butt" stroke-dasharray="6.5 3.1"/>
<path d="M295.68 887.88L343.62 896.9" fill="none" stroke="#FFC000" stroke-width="2.5" stroke-linecap="butt" stroke-dasharray="6.5 3.1"/>
<path d="M343.62 896.9L391.58 887.3" fill="none" stroke="#FFC000" stroke-width="2.5" stroke-linecap="butt" stroke-dasharray="6.5 3.1"/>
<path d="M391.58 887.3L439.52 946.95" fill="none" stroke="#FFC000" stroke-width="2.5" stroke-linecap="butt" stroke-dasharray="6.5 3.1"/>
<path d="M439.52 946.95L487.48 895.73" fill="none" stroke="#FFC000" stroke-width="2.5" stroke-linecap="butt" stroke-dasharray="6.5 3.1"/>
<path d="M487.48 895.73L535.43 886.71" fill="none" stroke="#FFC000" stroke-width="2.5" stroke-linecap="butt" stroke-dasharray="6.5 3.1"/>
<path d="M103.88 992.06L110.08 1004.36L97.67 1004.36Z" fill="#FFC000"/>
<path d="M151.83 942.59L158.03 954.89L145.62 954.89Z" fill="#FFC000"/>
<path d="M199.78 893.99L205.98 906.29L193.57 906.29Z" fill="#FFC000"/>
<path d="M247.73 893.7L253.93 906L241.53 906Z" fill="#FFC000"/>
<path d="M295.68 881.48L301.88 893.78L289.48 893.78Z" fill="#FFC000"/>
<path d="M343.62 890.5L349.82 902.8L337.43 902.8Z" fill="#FFC000"/>
<path d="M391.58 880.9L397.78 893.2L385.38 893.2Z" fill="#FFC000"/>
<path d="M439.52 940.55L445.72 952.85L433.32 952.85Z" fill="#FFC000"/>
<path d="M487.48 889.33L493.68 901.63L481.28 901.63Z" fill="#FFC000"/>
<path d="M535.43 880.31L541.62 892.61L529.23 892.61Z" fill="#FFC000"/>
<polyline points="103.88,967.32 151.83,941.71 199.78,903.3 247.73,916.1 295.68,887.3 343.62,906.5 391.58,886.42 439.52,946.95 487.48,887 535.43,860.81" fill="none" stroke="#000000" stroke-width="2.5" stroke-linecap="round" stroke-linejoin="round"/>
<rect x="97.97" y="961.42" width="11.8" height="11.8" fill="#000000"/>
<rect x="145.93" y="935.81" width="11.8" height="11.8" fill="#000000"/>
<rect x="193.88" y="897.4" width="11.8" height="11.8" fill="#000000"/>
<rect x="241.83" y="910.2" width="11.8" height="11.8" fill="#000000"/>
<rect x="289.78" y="881.4" width="11.8" height="11.8" fill="#000000"/>
<rect x="337.73" y="900.6" width="11.8" height="11.8" fill="#000000"/>
<rect x="385.68" y="880.52" width="11.8" height="11.8" fill="#000000"/>
<rect x="433.62" y="941.05" width="11.8" height="11.8" fill="#000000"/>
<rect x="481.58" y="881.1" width="11.8" height="11.8" fill="#000000"/>
<rect x="529.53" y="854.91" width="11.8" height="11.8" fill="#000000"/>
<path d="M103.88 967.9L151.83 929.78" fill="none" stroke="#70AD47" stroke-width="2.5" stroke-linecap="butt" stroke-dasharray="8.4 8.2"/>
<path d="M151.83 929.78L199.78 925.71" fill="none" stroke="#70AD47" stroke-width="2.5" stroke-linecap="butt" stroke-dasharray="8.4 8.2"/>
<path d="M199.78 925.71L247.73 908.83" fill="none" stroke="#70AD47" stroke-width="2.5" stroke-linecap="butt" stroke-dasharray="8.4 8.2"/>
<path d="M247.73 908.83L295.68 922.51" fill="none" stroke="#70AD47" stroke-width="2.5" stroke-linecap="butt" stroke-dasharray="8.4 8.2"/>
<path d="M295.68 922.51L343.62 883.22" fill="none" stroke="#70AD47" stroke-width="2.5" stroke-linecap="butt" stroke-dasharray="8.4 8.2"/>
<path d="M343.62 883.22L391.58 866.34" fill="none" stroke="#70AD47" stroke-width="2.5" stroke-linecap="butt" stroke-dasharray="8.4 8.2"/>
<path d="M391.58 866.34L439.52 947.53" fill="none" stroke="#70AD47" stroke-width="2.5" stroke-linecap="butt" stroke-dasharray="8.4 8.2"/>
<path d="M439.52 947.53L487.48 917.27" fill="none" stroke="#70AD47" stroke-width="2.5" stroke-linecap="butt" stroke-dasharray="8.4 8.2"/>
<path d="M487.48 917.27L535.43 921.63" fill="none" stroke="#70AD47" stroke-width="2.5" stroke-linecap="butt" stroke-dasharray="8.4 8.2"/>
<circle cx="103.88" cy="967.9" r="6.2" fill="#70AD47"/>
<circle cx="151.83" cy="929.78" r="6.2" fill="#70AD47"/>
<circle cx="199.78" cy="925.71" r="6.2" fill="#70AD47"/>
<circle cx="247.73" cy="908.83" r="6.2" fill="#70AD47"/>
<circle cx="295.68" cy="922.51" r="6.2" fill="#70AD47"/>
<circle cx="343.62" cy="883.22" r="6.2" fill="#70AD47"/>
<circle cx="391.58" cy="866.34" r="6.2" fill="#70AD47"/>
<circle cx="439.52" cy="947.53" r="6.2" fill="#70AD47"/>
<circle cx="487.48" cy="917.27" r="6.2" fill="#70AD47"/>
<circle cx="535.43" cy="921.63" r="6.2" fill="#70AD47"/>
<path d="M116 781.2H162.5" stroke="#FF0000" stroke-width="2.5" stroke-linecap="round"/>
<rect x="133" y="775.3" width="11.8" height="11.8" fill="#FF0000"/>
<text x="168.8" y="788.5" font-family="Liberation Serif, serif" font-size="19">BSFL0%</text>
<path d="M114.7 800.5H160.3" stroke="#5B9BD5" stroke-width="2.5" stroke-linecap="butt" stroke-dasharray="2.35 2.35"/>
<path d="M138.9 794.6L144.8 800.5L138.9 806.4L133 800.5Z" fill="#5B9BD5"/>
<text x="168.8" y="807.8" font-family="Liberation Serif, serif" font-size="19">BSFL25%</text>
<path d="M114.7 819.8H160.3" stroke="#FFC000" stroke-width="2.5" stroke-linecap="butt" stroke-dasharray="6.5 3.1"/>
<path d="M138.9 813.4L145.1 825.7L132.7 825.7Z" fill="#FFC000"/>
<text x="168.8" y="827.1" font-family="Liberation Serif, serif" font-size="19">BSFL50%</text>
<path d="M116 839.1H162.5" stroke="#000000" stroke-width="2.5" stroke-linecap="round"/>
<rect x="133" y="833.2" width="11.8" height="11.8" fill="#000000"/>
<text x="168.8" y="846.4" font-family="Liberation Serif, serif" font-size="19">BSFL75%</text>
<path d="M114.7 858.4H160.3" stroke="#70AD47" stroke-width="2.5" stroke-linecap="butt" stroke-dasharray="8.4 8.2"/>
<circle cx="138.9" cy="858.4" r="6.2" fill="#70AD47"/>
<text x="168.8" y="865.7" font-family="Liberation Serif, serif" font-size="19">BSFL100%</text>
<text x="0" y="1130.6" font-family="Liberation Sans, sans-serif" font-weight="bold" font-size="29.5">D</text>
<path d="M84.3 1151.9V1397.3H557.3" fill="none" stroke="#000" stroke-width="2"/>
<path d="M84.3 1397.3h7M84.3 1356.4h7M84.3 1315.5h7M84.3 1274.6h7M84.3 1233.7h7M84.3 1192.8h7M84.3 1151.9h7M131.6 1397.3v-7M178.9 1397.3v-7M226.2 1397.3v-7M273.5 1397.3v-7M320.8 1397.3v-7M368.1 1397.3v-7M415.4 1397.3v-7M462.7 1397.3v-7M510 1397.3v-7M557.3 1397.3v-7" fill="none" stroke="#000" stroke-width="2"/>
<text transform="translate(71.1,1404.5) scale(1.035,1)" font-family="Liberation Serif, serif" font-size="18.3" text-anchor="end">7.60</text>
<text transform="translate(71.1,1363.6) scale(1.035,1)" font-family="Liberation Serif, serif" font-size="18.3" text-anchor="end">7.70</text>
<text transform="translate(71.1,1322.7) scale(1.035,1)" font-family="Liberation Serif, serif" font-size="18.3" text-anchor="end">7.80</text>
<text transform="translate(71.1,1281.8) scale(1.035,1)" font-family="Liberation Serif, serif" font-size="18.3" text-anchor="end">7.90</text>
<text transform="translate(71.1,1240.9) scale(1.035,1)" font-family="Liberation Serif, serif" font-size="18.3" text-anchor="end">8.00</text>
<text transform="translate(71.1,1200) scale(1.035,1)" font-family="Liberation Serif, serif" font-size="18.3" text-anchor="end">8.10</text>
<text transform="translate(71.1,1159.1) scale(1.035,1)" font-family="Liberation Serif, serif" font-size="18.3" text-anchor="end">8.20</text>
<text x="107.95" y="1427.6" font-family="Liberation Serif, serif" font-size="18.3" text-anchor="middle">4</text>
<text x="155.25" y="1427.6" font-family="Liberation Serif, serif" font-size="18.3" text-anchor="middle">9</text>
<text x="202.55" y="1427.6" font-family="Liberation Serif, serif" font-size="18.3" text-anchor="middle">13</text>
<text x="249.85" y="1427.6" font-family="Liberation Serif, serif" font-size="18.3" text-anchor="middle">18</text>
<text x="297.15" y="1427.6" font-family="Liberation Serif, serif" font-size="18.3" text-anchor="middle">22</text>
<text x="344.45" y="1427.6" font-family="Liberation Serif, serif" font-size="18.3" text-anchor="middle">27</text>
<text x="391.75" y="1427.6" font-family="Liberation Serif, serif" font-size="18.3" text-anchor="middle">32</text>
<text x="439.05" y="1427.6" font-family="Liberation Serif, serif" font-size="18.3" text-anchor="middle">36</text>
<text x="486.35" y="1427.6" font-family="Liberation Serif, serif" font-size="18.3" text-anchor="middle">40</text>
<text x="533.65" y="1427.6" font-family="Liberation Serif, serif" font-size="18.3" text-anchor="middle">45</text>
<text x="287.6" y="1449.8" font-family="Liberation Serif, serif" font-size="18.3" text-anchor="middle">t/d</text>
<text transform="translate(20.2,1270.8) rotate(-90)" font-family="Liberation Serif, serif" font-size="19.2" text-anchor="middle">pH</text>
<path d="M103.45 1225.52h9M107.95 1225.52V1249.24M103.45 1249.24h9M150.75 1230.02h9M155.25 1230.02V1249.65M150.75 1249.65h9M198.05 1258.24h9M202.55 1258.24V1274.6M198.05 1274.6h9M245.35 1291.78h9M249.85 1291.78V1313.05M245.35 1313.05h9M292.65 1333.5h9M297.15 1333.5V1387.48M292.65 1387.48h9M339.95 1298.73h9M344.45 1298.73V1362.53M339.95 1362.53h9M387.25 1267.24h9M391.75 1267.24V1361.31M387.25 1361.31h9M434.55 1302.82h9M439.05 1302.82V1347.81M434.55 1347.81h9M481.85 1333.09h9M486.35 1333.09V1355.17M481.85 1355.17h9M529.15 1377.67h9M533.65 1377.67V1396.48M529.15 1396.48h9" fill="none" stroke="#595959" stroke-width="2"/>
<path d="M103.45 1245.56h9M107.95 1245.56V1279.1M103.45 1279.1h9M150.75 1244.74h9M155.25 1244.74V1272.55M150.75 1272.55h9M198.05 1258.24h9M202.55 1258.24V1293.41M198.05 1293.41h9M245.35 1313.45h9M249.85 1313.45V1332.27M245.35 1332.27h9M292.65 1360.49h9M297.15 1360.49V1376.85M292.65 1376.85h9M339.95 1317.14h9M344.45 1317.14V1370.31M339.95 1370.31h9M387.25 1279.51h9M391.75 1279.51V1300.78M387.25 1300.78h9M434.55 1263.15h9M439.05 1263.15V1353.13M434.55 1353.13h9M481.85 1317.54h9M486.35 1317.54V1348.63M481.85 1348.63h9M529.15 1320h9M533.65 1320V1364.99M529.15 1364.99h9" fill="none" stroke="#595959" stroke-width="2"/>
<path d="M103.45 1248.42h9M107.95 1248.42V1299.14M103.45 1299.14h9M150.75 1248.01h9M155.25 1248.01V1282.37M150.75 1282.37h9M198.05 1263.97h9M202.55 1263.97V1301.59M198.05 1301.59h9M245.35 1303.23h9M249.85 1303.23V1356.4M245.35 1356.4h9M292.65 1345.36h9M297.15 1345.36V1397.3M339.95 1327.36h9M344.45 1327.36V1343.72M339.95 1343.72h9M387.25 1312.23h9M391.75 1312.23V1328.59M387.25 1328.59h9M434.55 1270.51h9M439.05 1270.51V1360.49M434.55 1360.49h9M481.85 1263.97h9M486.35 1263.97V1335.13M481.85 1335.13h9M529.15 1294.23h9M533.65 1294.23V1347.4M529.15 1347.4h9" fill="none" stroke="#595959" stroke-width="2"/>
<path d="M103.45 1244.74h9M107.95 1244.74V1266.83M103.45 1266.83h9M150.75 1230.02h9M155.25 1230.02V1249.65M150.75 1249.65h9M198.05 1259.47h9M202.55 1259.47V1275.83M198.05 1275.83h9M245.35 1282.37h9M249.85 1282.37V1298.73M245.35 1298.73h9M292.65 1353.13h9M297.15 1353.13V1369.49M292.65 1369.49h9M339.95 1269.69h9M344.45 1269.69V1283.6M339.95 1283.6h9M387.25 1242.29h9M391.75 1242.29V1265.19M387.25 1265.19h9M434.55 1226.34h9M439.05 1226.34V1242.7M434.55 1242.7h9M481.85 1205.07h9M486.35 1205.07V1222.25M481.85 1222.25h9M529.15 1239.02h9M533.65 1239.02V1255.38M529.15 1255.38h9" fill="none" stroke="#595959" stroke-width="2"/>
<path d="M103.45 1215.29h9M107.95 1215.29V1248.83M103.45 1248.83h9M150.75 1205.48h9M155.25 1205.48V1239.02M150.75 1239.02h9M198.05 1243.92h9M202.55 1243.92V1273.37M198.05 1273.37h9M245.35 1266.83h9M249.85 1266.83V1288.1M245.35 1288.1h9M292.65 1330.63h9M297.15 1330.63V1365.81M292.65 1365.81h9M339.95 1275.01h9M344.45 1275.01V1291.37M339.95 1291.37h9M387.25 1209.98h9M391.75 1209.98V1241.06M387.25 1241.06h9M434.55 1190.75h9M439.05 1190.75V1225.11M434.55 1225.11h9M481.85 1212.43h9M486.35 1212.43V1235.34M481.85 1235.34h9M529.15 1211.61h9M533.65 1211.61V1252.51M529.15 1252.51h9" fill="none" stroke="#595959" stroke-width="2"/>
<polyline points="107.95,1237.38 155.25,1239.83 202.55,1266.42 249.85,1302.41 297.15,1360.49 344.45,1330.63 391.75,1314.27 439.05,1325.32 486.35,1344.13 533.65,1387.07" fill="none" stroke="#FF0000" stroke-width="2.5" stroke-linecap="round" stroke-linejoin="round"/>
<rect x="102.05" y="1231.48" width="11.8" height="11.8" fill="#FF0000"/>
<rect x="149.35" y="1233.93" width="11.8" height="11.8" fill="#FF0000"/>
<rect x="196.65" y="1260.52" width="11.8" height="11.8" fill="#FF0000"/>
<rect x="243.95" y="1296.51" width="11.8" height="11.8" fill="#FF0000"/>
<rect x="291.25" y="1354.59" width="11.8" height="11.8" fill="#FF0000"/>
<rect x="338.55" y="1324.73" width="11.8" height="11.8" fill="#FF0000"/>
<rect x="385.85" y="1308.37" width="11.8" height="11.8" fill="#FF0000"/>
<rect x="433.15" y="1319.42" width="11.8" height="11.8" fill="#FF0000"/>
<rect x="480.45" y="1338.23" width="11.8" height="11.8" fill="#FF0000"/>
<rect x="527.75" y="1381.17" width="11.8" height="11.8" fill="#FF0000"/>
<path d="M107.95 1262.33L155.25 1258.65" fill="none" stroke="#5B9BD5" stroke-width="2.5" stroke-linecap="butt" stroke-dasharray="2.35 2.35"/>
<path d="M155.25 1258.65L202.55 1275.83" fill="none" stroke="#5B9BD5" stroke-width="2.5" stroke-linecap="butt" stroke-dasharray="2.35 2.35"/>
<path d="M202.55 1275.83L249.85 1322.86" fill="none" stroke="#5B9BD5" stroke-width="2.5" stroke-linecap="butt" stroke-dasharray="2.35 2.35"/>
<path d="M249.85 1322.86L297.15 1368.67" fill="none" stroke="#5B9BD5" stroke-width="2.5" stroke-linecap="butt" stroke-dasharray="2.35 2.35"/>
<path d="M297.15 1368.67L344.45 1343.72" fill="none" stroke="#5B9BD5" stroke-width="2.5" stroke-linecap="butt" stroke-dasharray="2.35 2.35"/>
<path d="M344.45 1343.72L391.75 1290.14" fill="none" stroke="#5B9BD5" stroke-width="2.5" stroke-linecap="butt" stroke-dasharray="2.35 2.35"/>
<path d="M391.75 1290.14L439.05 1308.14" fill="none" stroke="#5B9BD5" stroke-width="2.5" stroke-linecap="butt" stroke-dasharray="2.35 2.35"/>
<path d="M439.05 1308.14L486.35 1333.09" fill="none" stroke="#5B9BD5" stroke-width="2.5" stroke-linecap="butt" stroke-dasharray="2.35 2.35"/>
<path d="M486.35 1333.09L533.65 1342.49" fill="none" stroke="#5B9BD5" stroke-width="2.5" stroke-linecap="butt" stroke-dasharray="2.35 2.35"/>
<path d="M107.95 1256.43L113.85 1262.33L107.95 1268.23L102.05 1262.33Z" fill="#5B9BD5"/>
<path d="M155.25 1252.75L161.15 1258.65L155.25 1264.55L149.35 1258.65Z" fill="#5B9BD5"/>
<path d="M202.55 1269.93L208.45 1275.83L202.55 1281.73L196.65 1275.83Z" fill="#5B9BD5"/>
<path d="M249.85 1316.96L255.75 1322.86L249.85 1328.76L243.95 1322.86Z" fill="#5B9BD5"/>
<path d="M297.15 1362.77L303.05 1368.67L297.15 1374.57L291.25 1368.67Z" fill="#5B9BD5"/>
<path d="M344.45 1337.82L350.35 1343.72L344.45 1349.62L338.55 1343.72Z" fill="#5B9BD5"/>
<path d="M391.75 1284.24L397.65 1290.14L391.75 1296.04L385.85 1290.14Z" fill="#5B9BD5"/>
<path d="M439.05 1302.24L444.95 1308.14L439.05 1314.04L433.15 1308.14Z" fill="#5B9BD5"/>
<path d="M486.35 1327.19L492.25 1333.09L486.35 1338.99L480.45 1333.09Z" fill="#5B9BD5"/>
<path d="M533.65 1336.59L539.55 1342.49L533.65 1348.39L527.75 1342.49Z" fill="#5B9BD5"/>
<path d="M107.95 1273.78L155.25 1265.19" fill="none" stroke="#FFC000" stroke-width="2.5" stroke-linecap="butt" stroke-dasharray="6.5 3.1"/>
<path d="M155.25 1265.19L202.55 1282.78" fill="none" stroke="#FFC000" stroke-width="2.5" stroke-linecap="butt" stroke-dasharray="6.5 3.1"/>
<path d="M202.55 1282.78L249.85 1329.81" fill="none" stroke="#FFC000" stroke-width="2.5" stroke-linecap="butt" stroke-dasharray="6.5 3.1"/>
<path d="M249.85 1329.81L297.15 1373.99" fill="none" stroke="#FFC000" stroke-width="2.5" stroke-linecap="butt" stroke-dasharray="6.5 3.1"/>
<path d="M297.15 1373.99L344.45 1335.54" fill="none" stroke="#FFC000" stroke-width="2.5" stroke-linecap="butt" stroke-dasharray="6.5 3.1"/>
<path d="M344.45 1335.54L391.75 1320.41" fill="none" stroke="#FFC000" stroke-width="2.5" stroke-linecap="butt" stroke-dasharray="6.5 3.1"/>
<path d="M391.75 1320.41L439.05 1315.5" fill="none" stroke="#FFC000" stroke-width="2.5" stroke-linecap="butt" stroke-dasharray="6.5 3.1"/>
<path d="M439.05 1315.5L486.35 1299.55" fill="none" stroke="#FFC000" stroke-width="2.5" stroke-linecap="butt" stroke-dasharray="6.5 3.1"/>
<path d="M486.35 1299.55L533.65 1320.82" fill="none" stroke="#FFC000" stroke-width="2.5" stroke-linecap="butt" stroke-dasharray="6.5 3.1"/>
<path d="M107.95 1267.38L114.15 1279.68L101.75 1279.68Z" fill="#FFC000"/>
<path d="M155.25 1258.79L161.45 1271.09L149.05 1271.09Z" fill="#FFC000"/>
<path d="M202.55 1276.38L208.75 1288.68L196.35 1288.68Z" fill="#FFC000"/>
<path d="M249.85 1323.41L256.05 1335.71L243.65 1335.71Z" fill="#FFC000"/>
<path d="M297.15 1367.59L303.35 1379.89L290.95 1379.89Z" fill="#FFC000"/>
<path d="M344.45 1329.14L350.65 1341.44L338.25 1341.44Z" fill="#FFC000"/>
<path d="M391.75 1314.01L397.95 1326.31L385.55 1326.31Z" fill="#FFC000"/>
<path d="M439.05 1309.1L445.25 1321.4L432.85 1321.4Z" fill="#FFC000"/>
<path d="M486.35 1293.15L492.55 1305.45L480.15 1305.45Z" fill="#FFC000"/>
<path d="M533.65 1314.42L539.85 1326.72L527.45 1326.72Z" fill="#FFC000"/>
<polyline points="107.95,1255.79 155.25,1239.83 202.55,1267.65 249.85,1290.55 297.15,1361.31 344.45,1276.64 391.75,1253.74 439.05,1234.52 486.35,1213.66 533.65,1247.2" fill="none" stroke="#000000" stroke-width="2.5" stroke-linecap="round" stroke-linejoin="round"/>
<rect x="102.05" y="1249.89" width="11.8" height="11.8" fill="#000000"/>
<rect x="149.35" y="1233.93" width="11.8" height="11.8" fill="#000000"/>
<rect x="196.65" y="1261.75" width="11.8" height="11.8" fill="#000000"/>
<rect x="243.95" y="1284.65" width="11.8" height="11.8" fill="#000000"/>
<rect x="291.25" y="1355.41" width="11.8" height="11.8" fill="#000000"/>
<rect x="338.55" y="1270.74" width="11.8" height="11.8" fill="#000000"/>
<rect x="385.85" y="1247.84" width="11.8" height="11.8" fill="#000000"/>
<rect x="433.15" y="1228.62" width="11.8" height="11.8" fill="#000000"/>
<rect x="480.45" y="1207.76" width="11.8" height="11.8" fill="#000000"/>
<rect x="527.75" y="1241.3" width="11.8" height="11.8" fill="#000000"/>
<path d="M107.95 1232.06L155.25 1222.25" fill="none" stroke="#70AD47" stroke-width="2.5" stroke-linecap="butt" stroke-dasharray="8.4 8.2"/>
<path d="M155.25 1222.25L202.55 1258.65" fill="none" stroke="#70AD47" stroke-width="2.5" stroke-linecap="butt" stroke-dasharray="8.4 8.2"/>
<path d="M202.55 1258.65L249.85 1277.46" fill="none" stroke="#70AD47" stroke-width="2.5" stroke-linecap="butt" stroke-dasharray="8.4 8.2"/>
<path d="M249.85 1277.46L297.15 1348.22" fill="none" stroke="#70AD47" stroke-width="2.5" stroke-linecap="butt" stroke-dasharray="8.4 8.2"/>
<path d="M297.15 1348.22L344.45 1283.19" fill="none" stroke="#70AD47" stroke-width="2.5" stroke-linecap="butt" stroke-dasharray="8.4 8.2"/>
<path d="M344.45 1283.19L391.75 1225.52" fill="none" stroke="#70AD47" stroke-width="2.5" stroke-linecap="butt" stroke-dasharray="8.4 8.2"/>
<path d="M391.75 1225.52L439.05 1207.93" fill="none" stroke="#70AD47" stroke-width="2.5" stroke-linecap="butt" stroke-dasharray="8.4 8.2"/>
<path d="M439.05 1207.93L486.35 1223.88" fill="none" stroke="#70AD47" stroke-width="2.5" stroke-linecap="butt" stroke-dasharray="8.4 8.2"/>
<path d="M486.35 1223.88L533.65 1232.06" fill="none" stroke="#70AD47" stroke-width="2.5" stroke-linecap="butt" stroke-dasharray="8.4 8.2"/>
<circle cx="107.95" cy="1232.06" r="6.2" fill="#70AD47"/>
<circle cx="155.25" cy="1222.25" r="6.2" fill="#70AD47"/>
<circle cx="202.55" cy="1258.65" r="6.2" fill="#70AD47"/>
<circle cx="249.85" cy="1277.46" r="6.2" fill="#70AD47"/>
<circle cx="297.15" cy="1348.22" r="6.2" fill="#70AD47"/>
<circle cx="344.45" cy="1283.19" r="6.2" fill="#70AD47"/>
<circle cx="391.75" cy="1225.52" r="6.2" fill="#70AD47"/>
<circle cx="439.05" cy="1207.93" r="6.2" fill="#70AD47"/>
<circle cx="486.35" cy="1223.88" r="6.2" fill="#70AD47"/>
<circle cx="533.65" cy="1232.06" r="6.2" fill="#70AD47"/>
<path d="M227.3 1145.4H274.4" stroke="#FF0000" stroke-width="2.5" stroke-linecap="round"/>
<rect x="245.1" y="1139.5" width="11.8" height="11.8" fill="#FF0000"/>
<text x="281.1" y="1152.7" font-family="Liberation Serif, serif" font-size="19">BSFL0%</text>
<path d="M226 1164.38H272.2" stroke="#5B9BD5" stroke-width="2.5" stroke-linecap="butt" stroke-dasharray="2.35 2.35"/>
<path d="M251 1158.48L256.9 1164.38L251 1170.28L245.1 1164.38Z" fill="#5B9BD5"/>
<text x="281.1" y="1171.68" font-family="Liberation Serif, serif" font-size="19">BSFL25%</text>
<path d="M226 1183.36H272.2" stroke="#FFC000" stroke-width="2.5" stroke-linecap="butt" stroke-dasharray="6.5 3.1"/>
<path d="M251 1176.96L257.2 1189.26L244.8 1189.26Z" fill="#FFC000"/>
<text x="281.1" y="1190.66" font-family="Liberation Serif, serif" font-size="19">BSFL50%</text>
<path d="M227.3 1202.34H274.4" stroke="#000000" stroke-width="2.5" stroke-linecap="round"/>
<rect x="245.1" y="1196.44" width="11.8" height="11.8" fill="#000000"/>
<text x="281.1" y="1209.64" font-family="Liberation Serif, serif" font-size="19">BSFL75%</text>
<path d="M226 1221.32H272.2" stroke="#70AD47" stroke-width="2.5" stroke-linecap="butt" stroke-dasharray="8.4 8.2"/>
<circle cx="251" cy="1221.32" r="6.2" fill="#70AD47"/>
<text x="281.1" y="1228.62" font-family="Liberation Serif, serif" font-size="19">BSFL100%</text>
</svg></body></html>
